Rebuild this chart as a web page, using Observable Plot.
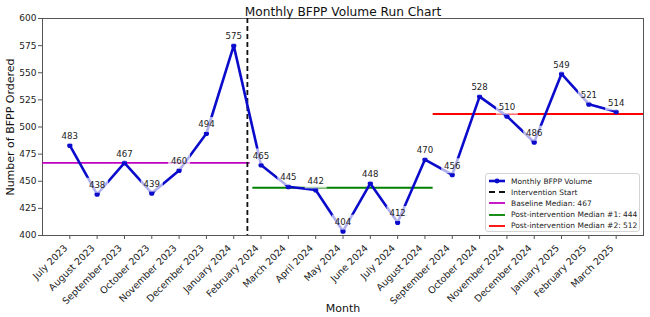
<!DOCTYPE html>
<html>
<head>
<meta charset="utf-8">
<script src="https://cdn.jsdelivr.net/npm/d3@7"></script>
<script src="https://cdn.jsdelivr.net/npm/@observablehq/plot@0.6"></script>
<style>
  body { margin: 0; background: #fff; font-family: "DejaVu Sans", sans-serif; }
  #wrap { position: relative; width: 650px; height: 317px; }
  #legend {
    position: absolute; left: 485px; top: 173px; width: 155px; height: 59px;
    border: 1px solid #d4d4d4; border-radius: 3px; background: rgba(255,255,255,0.85);
    font-size: 7.5px; color: #222; box-sizing: border-box; padding: 1.5px 2px;
  }
  .item { display: flex; align-items: center; height: 11.2px; white-space: nowrap; }
  .item svg { margin-right: 5px; flex: none; }
</style>
</head>
<body>
<div id="wrap"><div id="legend"></div></div>
<script>
const months = ["July 2023","August 2023","September 2023","October 2023","November 2023","December 2023","January 2024","February 2024","March 2024","April 2024","May 2024","June 2024","July 2024","August 2024","September 2024","October 2024","November 2024","December 2024","January 2025","February 2025","March 2025"];
const volumes = [483,438,467,439,460,494,575,465,445,442,404,448,412,470,456,528,510,486,549,521,514];
const yTicks = [400,425,450,475,500,525,550,575,600];
const interventionAt = 6.5;
const medianLabels = ["Baseline Median", "Post-intervention Median #1", "Post-intervention Median #2"];
const medianValues = [467, 444, 512];
const medianStarts = [-1, 6.7, 13.3];
const medianEnds = [6.6, 13.3, 21];
const medianColors = ["#bf00bf", "#008000", "#ff0000"];
const seriesName = "Monthly BFPP Volume";
const interventionName = "Intervention Start";
const titleText = "Monthly BFPP Volume Run Chart";
const xLabel = "Month";
const yLabel = "Number of BFPP Ordered";

const data = volumes.map((v, i) => ({i, month: months[i], v}));
const medians = medianValues.map((m, k) => ({label: medianLabels[k], m, x1: medianStarts[k], x2: medianEnds[k], color: medianColors[k]}));

const blue = "#0b0bcc";
const boxSymbol = { draw(ctx) { ctx.rect(-11, -16.5, 22, 15); } };

const chart = Plot.plot({
  width: 650, height: 317,
  marginLeft: 42, marginRight: 7, marginTop: 18, marginBottom: 82,
  style: { fontFamily: "DejaVu Sans, sans-serif", background: "white", color: "#222" },
  x: { type: "linear", domain: [-1, 21] },
  y: { domain: [400, 600] },
  marks: [
    Plot.frame({ stroke: "#555", strokeWidth: 1 }),
    Plot.axisY({ ticks: yTicks, tickSize: 4, tickPadding: 2, fontSize: 9, label: null, stroke: "#555" }),
    Plot.axisX({ ticks: d3.range(months.length), tickFormat: () => "", tickSize: 4, label: null, stroke: "#555" }),
    Plot.text(data, { x: "i", frameAnchor: "bottom", text: "month", rotate: -45, textAnchor: "end", lineAnchor: "middle", dx: -4, dy: 11, fontSize: 9.5, fill: "#222" }),
    Plot.ruleY(medians, { y: "m", x1: "x1", x2: "x2", stroke: "color", strokeWidth: 1.8 }),
    Plot.ruleX([interventionAt], { stroke: "#111", strokeWidth: 1.8, strokeDasharray: "5,3" }),
    Plot.line(data, { x: "i", y: "v", stroke: blue, strokeWidth: 2.6 }),
    Plot.dot(data, { x: "i", y: "v", fill: blue, r: 2.6 }),
    Plot.dot(data, { x: "i", y: "v", symbol: boxSymbol, fill: "white", fillOpacity: 0.68, stroke: "none" }),
    Plot.text(data, { x: "i", y: "v", text: d => String(d.v), dy: -9, fontSize: 8.6, fill: "#222", lineAnchor: "middle" }),
    Plot.text([titleText], { frameAnchor: "top", dy: -3, lineAnchor: "bottom", fontSize: 12.2, fill: "#111" }),
    Plot.text([yLabel], { frameAnchor: "left", rotate: -90, textAnchor: "middle", dx: -32, fontSize: 11, fill: "#111" }),
    Plot.text([xLabel], { frameAnchor: "bottom", dy: 76, fontSize: 11, fill: "#111" })
  ]
});
document.getElementById("wrap").prepend(chart);

// legend
const legend = document.getElementById("legend");
const entries = [
  { label: seriesName, color: blue, dash: null, marker: true, w: 2.6 },
  { label: interventionName, color: "#111", dash: "6,4", marker: false, w: 1.8 },
  ...medians.map(m => ({ label: `${m.label}: ${m.m}`, color: m.color, dash: null, marker: false, w: 1.8 }))
];
for (const e of entries) {
  const div = document.createElement("div");
  div.className = "item";
  div.innerHTML = `<svg width="18" height="8"><line x1="1" y1="4" x2="17" y2="4" stroke="${e.color}" stroke-width="${e.w}" ${e.dash ? `stroke-dasharray="${e.dash}"` : ""}/>${e.marker ? `<circle cx="9" cy="4" r="2.4" fill="${e.color}"/>` : ""}</svg><span>${e.label}</span>`;
  legend.appendChild(div);
}
</script>
</body>
</html>
